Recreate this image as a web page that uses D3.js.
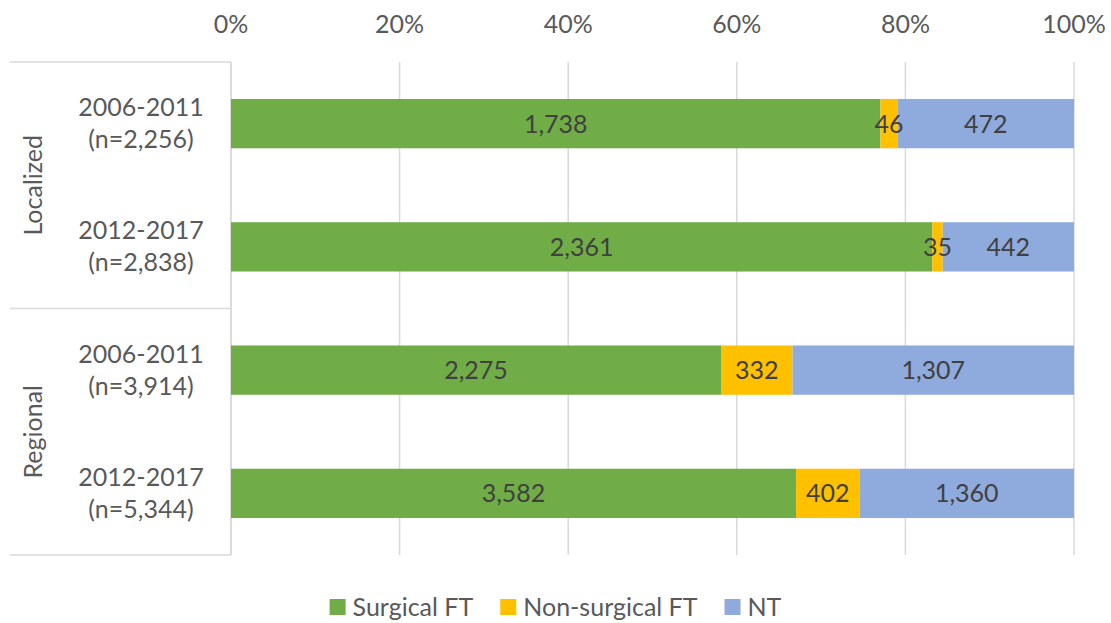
<!DOCTYPE html>
<html>
<head>
<meta charset="utf-8">
<script src="https://cdn.jsdelivr.net/npm/d3@7"></script>
<style>
  body { margin: 0; background: #fff; }
  svg { display: block; font-family: Lato, "Open Sans", sans-serif; }
  .tick-label { fill: #595959; font-size: 25px; }
  .cat-label { fill: #595959; font-size: 25px; }
  .bar-label { fill: #404040; font-size: 25px; }
  .legend text { fill: #595959; font-size: 25px; }
</style>
</head>
<body>
<div id="chart"></div>
<script>
const WIDTH = 1111;
const HEIGHT = 623;
const MARGIN = { top: 62, right: 37, bottom: 68, left: 231 };

const groups = ["Localized", "Localized", "Regional", "Regional"];
const periods = ["2006-2011", "2012-2017", "2006-2011", "2012-2017"];
const totals = ["n=2,256", "n=2,838", "n=3,914", "n=5,344"];
const surgicalFT = [1738, 2361, 2275, 3582];
const nonSurgicalFT = [46, 35, 332, 402];
const notTreated = [472, 442, 1307, 1360];
const seriesNames = ["Surgical FT", "Non-surgical FT", "NT"];
const seriesColors = ["#70ad47", "#ffc000", "#8faadc"];
const xTicks = [0, 0.2, 0.4, 0.6, 0.8, 1];

const rows = periods.map((p, i) => ({
  id: i,
  group: groups[i],
  period: p,
  total: totals[i],
  "Surgical FT": surgicalFT[i],
  "Non-surgical FT": nonSurgicalFT[i],
  NT: notTreated[i],
}));

const svg = d3.select("#chart").append("svg").attr("width", WIDTH).attr("height", HEIGHT);

const x = d3.scaleLinear().domain([0, 1]).range([MARGIN.left, WIDTH - MARGIN.right]);
const y = d3
  .scaleBand()
  .domain(rows.map((d) => d.id))
  .range([MARGIN.top, HEIGHT - MARGIN.bottom])
  .paddingInner(0.6)
  .paddingOuter(0.3);

// vertical gridlines
svg
  .append("g")
  .selectAll("line")
  .data(xTicks)
  .join("line")
  .attr("x1", (d) => x(d))
  .attr("x2", (d) => x(d))
  .attr("y1", MARGIN.top)
  .attr("y2", HEIGHT - MARGIN.bottom)
  .attr("stroke", "#d9d9d9")
  .attr("stroke-width", 1.5);

// top tick labels
svg
  .append("g")
  .selectAll("text")
  .data(xTicks)
  .join("text")
  .attr("class", "tick-label")
  .attr("x", (d) => x(d))
  .attr("y", 33)
  .attr("text-anchor", "middle")
  .text(d3.format(".0%"));

// category axis frame: boundaries halfway between groups
const groupNames = ["Localized", "Regional"];
const groupBounds = groupNames.map((g) => {
  const ids = rows.filter((r) => r.group === g).map((r) => r.id);
  const first = ids[0];
  const last = ids[ids.length - 1];
  const half = (y.step() - y.bandwidth()) / 2;
  const y0 = first === 0 ? MARGIN.top : y(first) - half;
  const y1 = last === rows.length - 1 ? HEIGHT - MARGIN.bottom : y(last) + y.bandwidth() + half;
  return { name: g, y0, y1 };
});

const frameY = [MARGIN.top, ...groupBounds.map((b) => b.y1)];
svg
  .append("g")
  .selectAll("line")
  .data(frameY)
  .join("line")
  .attr("x1", 10)
  .attr("x2", MARGIN.left)
  .attr("y1", (d) => d)
  .attr("y2", (d) => d)
  .attr("stroke", "#d9d9d9")
  .attr("stroke-width", 1.5);

svg
  .append("line")
  .attr("x1", MARGIN.left)
  .attr("x2", MARGIN.left)
  .attr("y1", MARGIN.top)
  .attr("y2", HEIGHT - MARGIN.bottom)
  .attr("stroke", "#d9d9d9")
  .attr("stroke-width", 1.5);

// group labels (rotated)
svg
  .append("g")
  .selectAll("text")
  .data(groupBounds)
  .join("text")
  .attr("class", "cat-label")
  .attr("transform", (d) => `translate(33,${(d.y0 + d.y1) / 2}) rotate(-90)`)
  .attr("text-anchor", "middle")
  .attr("dy", "0.35em")
  .text((d) => d.name);

// period labels
const catLabels = svg
  .append("g")
  .selectAll("text")
  .data(rows)
  .join("text")
  .attr("class", "cat-label")
  .attr("text-anchor", "middle")
  .attr("x", 141)
  .attr("y", (d) => y(d.id) + y.bandwidth() / 2);
catLabels.append("tspan").attr("x", 141).attr("dy", "-0.3em").text((d) => d.period);
catLabels.append("tspan").attr("x", 141).attr("dy", "1.28em").text((d) => `(${d.total})`);

// stacked bars
const stack = d3.stack().keys(seriesNames).offset(d3.stackOffsetExpand);
const stacked = stack(rows);

svg
  .append("g")
  .selectAll("g")
  .data(stacked)
  .join("g")
  .attr("fill", (d, i) => seriesColors[i])
  .selectAll("rect")
  .data((d) => d)
  .join("rect")
  .attr("x", (d) => x(d[0]))
  .attr("y", (d) => y(d.data.id))
  .attr("width", (d) => x(d[1]) - x(d[0]))
  .attr("height", y.bandwidth());

// value labels drawn above all bars
const labelData = stacked.flatMap((layer) => layer.map((p) => ({ p, key: layer.key })));
svg
  .append("g")
  .selectAll("text")
  .data(labelData)
  .join("text")
  .attr("class", "bar-label")
  .attr("text-anchor", "middle")
  .attr("dy", "0.36em")
  .attr("x", (d) => (x(d.p[0]) + x(d.p[1])) / 2)
  .attr("y", (d) => y(d.p.data.id) + y.bandwidth() / 2)
  .text((d) => d3.format(",")(d.p.data[d.key]));

// legend
const legend = svg.append("g").attr("class", "legend");
const items = legend
  .selectAll("g")
  .data(seriesNames)
  .join("g");
items
  .append("rect")
  .attr("width", 16)
  .attr("height", 16)
  .attr("y", -8)
  .attr("fill", (d, i) => seriesColors[i]);
items
  .append("text")
  .attr("x", 23)
  .attr("dy", "0.36em")
  .text((d) => d);

let offset = 0;
items.each(function () {
  const g = d3.select(this);
  g.attr("transform", `translate(${offset},0)`);
  offset += 23 + g.select("text").node().getComputedTextLength() + 27;
});
const legendWidth = offset - 27;
legend.attr("transform", `translate(${(WIDTH - legendWidth) / 2},607)`);
</script>
</body>
</html>
